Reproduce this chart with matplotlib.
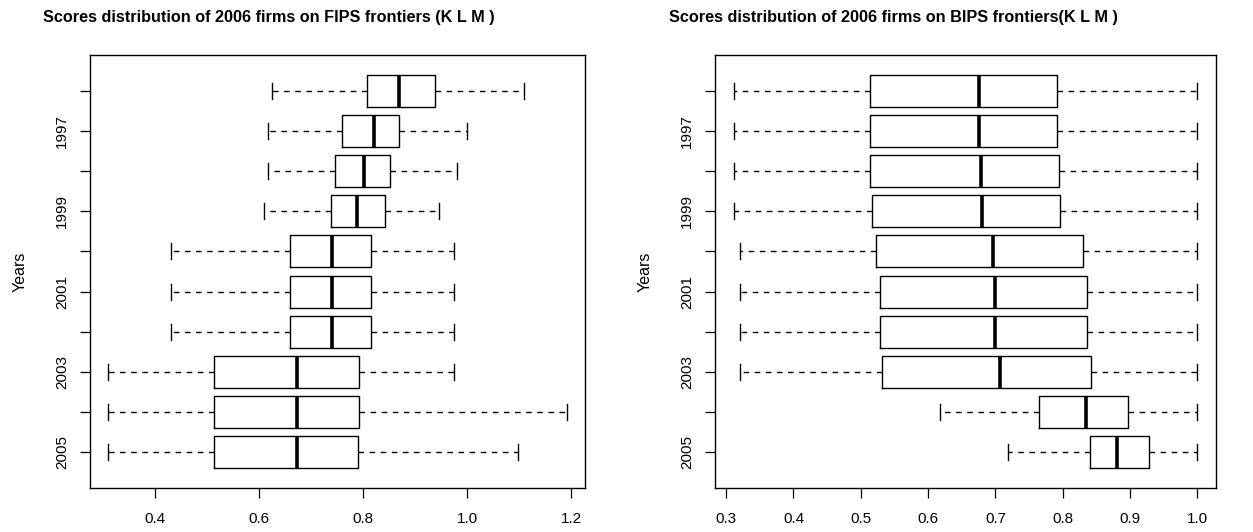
import matplotlib
matplotlib.use("Agg")
import matplotlib.pyplot as plt

plt.rcParams['font.family'] = ['Liberation Sans', 'DejaVu Sans']

# years from top (1996) to bottom (2005)
years = [1996, 1997, 1998, 1999, 2000, 2001, 2002, 2003, 2004, 2005]

# FIPS frontiers
fips_lo = [0.626, 0.618, 0.617, 0.610, 0.432, 0.432, 0.432, 0.311, 0.311, 0.311]
fips_q1 = [0.808, 0.760, 0.747, 0.738, 0.660, 0.660, 0.660, 0.513, 0.513, 0.513]
fips_med = [0.869, 0.822, 0.801, 0.788, 0.741, 0.741, 0.741, 0.674, 0.674, 0.674]
fips_q3 = [0.938, 0.869, 0.852, 0.843, 0.815, 0.815, 0.815, 0.793, 0.793, 0.791]
fips_hi = [1.109, 0.999, 0.980, 0.946, 0.974, 0.974, 0.974, 0.974, 1.191, 1.098]

# BIPS frontiers
bips_lo = [0.311, 0.312, 0.312, 0.312, 0.320, 0.320, 0.320, 0.320, 0.617, 0.718]
bips_q1 = [0.513, 0.513, 0.514, 0.516, 0.523, 0.528, 0.528, 0.531, 0.765, 0.840]
bips_med = [0.675, 0.675, 0.678, 0.680, 0.696, 0.700, 0.700, 0.706, 0.834, 0.880]
bips_q3 = [0.791, 0.791, 0.794, 0.796, 0.830, 0.836, 0.836, 0.842, 0.897, 0.928]
bips_hi = [1.0, 1.0, 1.0, 1.0, 1.0, 1.0, 1.0, 1.0, 1.0, 1.0]

fips_ticks = [0.4, 0.6, 0.8, 1.0, 1.2]
bips_ticks = [0.3, 0.4, 0.5, 0.6, 0.7, 0.8, 0.9, 1.0]

titles = ["Scores distribution of 2006 firms on FIPS frontiers (K L M )",
          "Scores distribution of 2006 firms on BIPS frontiers(K L M )"]


def draw_panel(ax, lo, q1, med, q3, hi, xticks, title, title_x):
    # R draws the first group at the bottom: here that is 2005
    stats = []
    for i in range(len(years) - 1, -1, -1):
        stats.append(dict(whislo=lo[i], q1=q1[i], med=med[i], q3=q3[i],
                          whishi=hi[i], fliers=[], label=str(years[i])))
    pos = list(range(1, len(years) + 1))
    ax.bxp(stats, positions=pos, orientation='horizontal', widths=0.8,
           capwidths=0.4, showfliers=False,
           boxprops=dict(color='black', linewidth=1.0),
           whiskerprops=dict(color='black', linewidth=1.0, linestyle=(0, (4, 4))),
           capprops=dict(color='black', linewidth=1.0),
           medianprops=dict(color='black', linewidth=2.6, solid_capstyle='butt'))

    xmin, xmax = min(lo), max(hi)
    ext = (xmax - xmin) * 0.04
    ax.set_xlim(xmin - ext, xmax + ext)
    n = len(years)
    ax.set_ylim(0.5 - n * 0.04, n + 0.5 + n * 0.04)

    ax.set_xticks(xticks)
    ax.set_xticklabels(["%.1f" % t for t in xticks])
    labels = [s['label'] if k % 2 == 0 else '' for k, s in enumerate(stats)]
    ax.set_yticks(pos)
    ax.set_yticklabels(labels, rotation=90, va='center')
    ax.tick_params(axis='both', direction='out', length=7, width=0.9,
                   labelsize=11, colors='black')
    ax.tick_params(axis='x', pad=10)
    ax.tick_params(axis='y', pad=8)
    ax.set_ylabel("Years", fontsize=11.5, labelpad=20)
    for sp in ax.spines.values():
        sp.set_linewidth(1.0)
        sp.set_color('black')
    ax.figure.text(title_x / 1253, 1 - 22 / 532, title, ha='left',
                   va='baseline', fontsize=11.7, fontweight='bold')


fig = plt.figure(figsize=(12.53, 5.32), dpi=100)
ax1 = fig.add_axes([90 / 1253, 44 / 532, 495 / 1253, 433 / 532])
ax2 = fig.add_axes([715 / 1253, 44 / 532, 501 / 1253, 433 / 532])

draw_panel(ax1, fips_lo, fips_q1, fips_med, fips_q3, fips_hi, fips_ticks, titles[0], 43)
draw_panel(ax2, bips_lo, bips_q1, bips_med, bips_q3, bips_hi, bips_ticks, titles[1], 669)

fig.savefig("out.png", dpi=100, facecolor='white')
